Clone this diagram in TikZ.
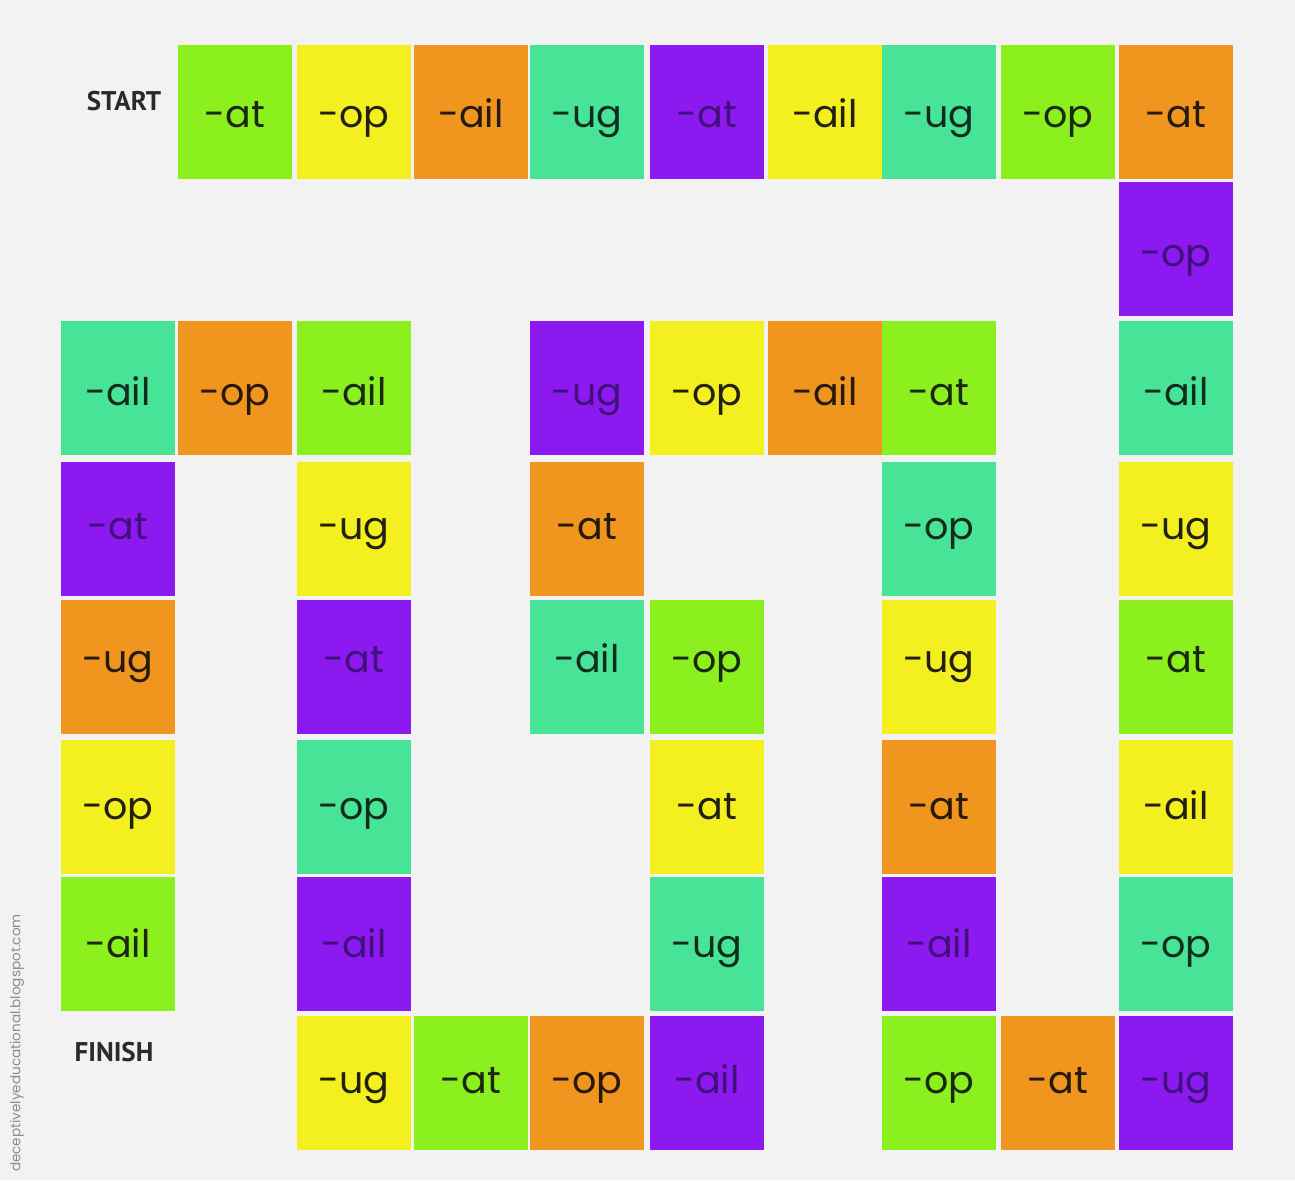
\documentclass[tikz,border=0pt]{standalone}
\usepackage{fontspec}
\newfontfamily\tilefont{Poppins}
\newfontfamily\labfont{PT Sans}
\definecolor{bg}{HTML}{F2F2F2}
\definecolor{tlime}{HTML}{8CEF1E}
\definecolor{tyel}{HTML}{F4EF1E}
\definecolor{torg}{HTML}{F0961E}
\definecolor{tteal}{HTML}{47E497}
\definecolor{tpurp}{HTML}{8D19F1}
\definecolor{tlimet}{HTML}{1A2810}
\definecolor{tyelt}{HTML}{222012}
\definecolor{torgt}{HTML}{261A0C}
\definecolor{ttealt}{HTML}{112C1C}
\definecolor{tpurpt}{HTML}{40117A}
\definecolor{labtext}{HTML}{2B2B2B}
\begin{document}
\begin{tikzpicture}[x=1pt,y=-1pt,
  tile/.style={rectangle, inner sep=0pt, minimum width=114pt, minimum height=134pt,
    font=\tilefont\fontsize{38}{40}\selectfont},
  lab/.style={font=\labfont\bfseries\fontsize{27}{30}\selectfont, text=labtext, inner sep=0pt}]
\useasboundingbox (0,0) rectangle (1295,1180);
\fill[bg] (0,0) rectangle (1295,1180);
\foreach \rr/\cc/\st/\w in {
  0/1/tlime/-at, 0/2/tyel/-op, 0/3/torg/-ail, 0/4/tteal/-ug, 0/5/tpurp/-at,
  0/6/tyel/-ail, 0/7/tteal/-ug, 0/8/tlime/-op, 0/9/torg/-at,
  1/9/tpurp/-op,
  2/0/tteal/-ail, 2/1/torg/-op, 2/2/tlime/-ail, 2/4/tpurp/-ug, 2/5/tyel/-op,
  2/6/torg/-ail, 2/7/tlime/-at, 2/9/tteal/-ail,
  3/0/tpurp/-at, 3/2/tyel/-ug, 3/4/torg/-at, 3/7/tteal/-op, 3/9/tyel/-ug,
  4/0/torg/-ug, 4/2/tpurp/-at, 4/4/tteal/-ail, 4/5/tlime/-op, 4/7/tyel/-ug, 4/9/tlime/-at,
  5/0/tyel/-op, 5/2/tteal/-op, 5/5/tyel/-at, 5/7/torg/-at, 5/9/tyel/-ail,
  6/0/tlime/-ail, 6/2/tpurp/-ail, 6/5/tteal/-ug, 6/7/tpurp/-ail, 6/9/tteal/-op,
  7/2/tyel/-ug, 7/3/tlime/-at, 7/4/torg/-op, 7/5/tpurp/-ail, 7/7/tlime/-op,
  7/8/torg/-at, 7/9/tpurp/-ug}
{
  \pgfmathsetmacro\xc{{61,178,297,414,530,650,768,882,1001,1119}[\cc]+57}
  \pgfmathsetmacro\yc{{45,182,321,462,600,740,877,1016}[\rr]+67}
  \pgfmathsetmacro\off{{16,17,17,10,5,12,13,10}[\rr]}
  \pgfmathsetmacro\th{20+\off}
  \pgfmathsetmacro\td{20-\off}
  \node[tile, fill=\st, text=\st t, text height=\th pt, text depth=\td pt]
    (t\rr-\cc) at (\xc,\yc) {\w};
}
\node[lab] (start) at (124,101) {START};
\node[lab] (finish) at (114,1052) {FINISH};
\node[rotate=90, font=\tilefont\fontsize{13.6}{14}\selectfont, text=black!45, inner sep=0pt]
  (credit) at (17,1043) {deceptivelyeducational.blogspot.com};
\end{tikzpicture}
\end{document}
